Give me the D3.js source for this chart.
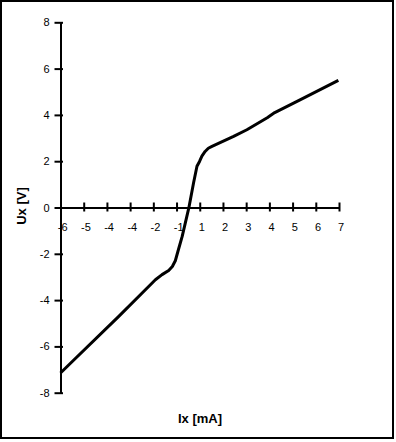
<!DOCTYPE html>
<html>
<head>
<meta charset="utf-8">
<script src="https://cdn.jsdelivr.net/npm/d3@7"></script>
<style>
  body { margin: 0; background: #fff; }
  svg text { font-family: "Liberation Sans", Arial, Helvetica, sans-serif; fill: #000; }
</style>
</head>
<body>
<svg id="svg" width="396" height="442"></svg>
<script>
// measured curve Ix [mA] -> Ux [V]
var ix = [-6, -5.45, -3.28, -1.57, -1.26, -0.95, -0.78, -0.64, -0.52, -0.32, -0.01, 0.21, 0.37, 0.49, 0.6, 0.75, 0.9, 1.07, 2.08, 2.7, 3.65, 4.0, 5.18, 6.97];
var ux = [-7.15, -6.65, -4.70, -3.12, -2.90, -2.72, -2.55, -2.30, -1.90, -1.25, -0.02, 1.06, 1.78, 1.99, 2.22, 2.42, 2.56, 2.64, 3.07, 3.36, 3.88, 4.10, 4.65, 5.49];

var xTickLabels = ["-6", "-5", "-4", "-4", "-2", "-1", "1", "2", "3", "4", "5", "6", "7"];
var yTicks = [-8, -6, -4, -2, 0, 2, 4, 6, 8];

function draw(){
	var svg = d3.select("#svg");

	// outer frame
	svg.append("rect")
		.attr("x", 1).attr("y", 1)
		.attr("width", 392).attr("height", 437)
		.attr("fill", "none")
		.attr("stroke", "#000")
		.attr("stroke-width", 2);

	var scaleX = d3.scaleLinear().domain([-6, 7]).range([60.5, 339]);
	var scaleY = d3.scaleLinear().domain([-8, 8]).range([392.7, 22.3]);

	// x axis: 13 evenly spaced ticks across the domain
	var xTickVals = d3.range(xTickLabels.length).map(function(i){ return -6 + i * 13 / (xTickLabels.length - 1); });
	var axisX = d3.axisBottom(scaleX)
		.tickValues(xTickVals)
		.tickFormat(function(d, i){ return xTickLabels[i]; })
		.tickSizeInner(4)
		.tickSizeOuter(0)
		.tickPadding(12);
	var gAxisX = svg.append("g")
		.attr("transform", "translate(0," + scaleY(0) + ")")
		.call(axisX);
	gAxisX.select(".domain").attr("stroke-width", 2);
	gAxisX.selectAll(".tick line").attr("y1", -5).attr("y2", 4).attr("stroke-width", 2);
	gAxisX.selectAll(".tick text").attr("font-size", 11).attr("dx", "0.15em");

	// y axis (plain hyphen for minus, like the original)
	var axisY = d3.axisLeft(scaleY)
		.tickValues(yTicks)
		.tickFormat(function(d){ return String(d); })
		.tickSizeInner(5)
		.tickSizeOuter(0)
		.tickPadding(7);
	var gAxisY = svg.append("g")
		.attr("transform", "translate(60.5,0)")
		.call(axisY);
	gAxisY.select(".domain").attr("stroke-width", 2);
	gAxisY.selectAll(".tick line").attr("x2", 2.5).attr("x1", -6).attr("stroke-width", 2);
	gAxisY.selectAll(".tick text").attr("font-size", 11).attr("x", -11);

	// curve
	var pts = ix.map(function(d, i){ return [d, ux[i]]; });
	var line = d3.line()
		.x(function(d){ return scaleX(d[0]); })
		.y(function(d){ return scaleY(d[1]); });
	svg.append("path")
		.datum(pts)
		.attr("d", line)
		.attr("fill", "none")
		.attr("stroke", "#000")
		.attr("stroke-width", 3)
		.attr("stroke-linejoin", "round");

	// axis titles
	svg.append("text")
		.attr("text-anchor", "middle")
		.attr("x", 200)
		.attr("y", 423)
		.attr("font-size", 13)
		.attr("font-weight", "bold")
		.text("Ix [mA]");

	svg.append("text")
		.attr("text-anchor", "middle")
		.attr("transform", "translate(26,206) rotate(-90)")
		.attr("font-size", 13)
		.attr("font-weight", "bold")
		.text("Ux [V]");
}
draw();
</script>
</body>
</html>
